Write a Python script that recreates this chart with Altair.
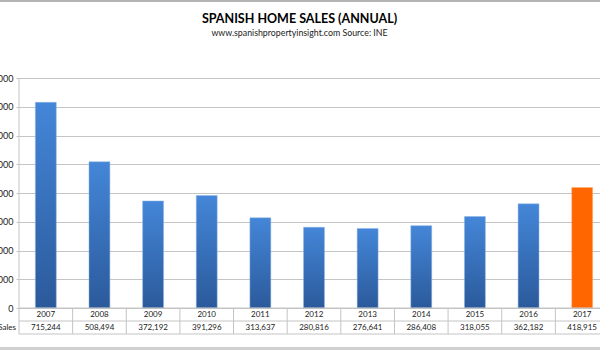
import altair as alt
import pandas as pd

# ---- data ----
years = ["2007", "2008", "2009", "2010", "2011", "2012", "2013", "2014", "2015", "2016", "2017"]
sales = [715244, 508494, 372192, 391296, 313637, 280816, 276641, 286408, 318055, 362182, 418915]
highlight_year = "2017"
row_label = ["Sales"]
y_ticks = [0, 100000, 200000, 300000, 400000, 500000, 600000, 700000, 800000]

title_text = ["SPANISH HOME SALES (ANNUAL)"]
subtitle_text = ["www.spanishpropertyinsight.com Source: INE"]

# ---- layout / style ----
FONT = "Lato"
W, H = 581, 230
X_RANGE = 590
ROW1, ROW2 = 243, 256
GRID = "#c4c4c4"

df = pd.DataFrame({"year": years, "sales": sales})
lines_df = pd.DataFrame({"idx": list(range(1, len(years) + 1))})

x = alt.X(
    "year:N",
    scale=alt.Scale(domain=years, range=[0, X_RANGE], paddingInner=0.61, paddingOuter=0.305),
    axis=None,
)
y = alt.Y(
    "sales:Q",
    scale=alt.Scale(domain=[0, 800000], nice=False),
    axis=alt.Axis(
        values=y_ticks, format="d", grid=True, gridColor=GRID, gridWidth=1,
        domain=False, ticks=True, tickSize=3, tickColor=GRID,
        labelFontSize=9, labelPadding=3, labelFont=FONT, labelColor="#222", title=None,
    ),
)

gradient = alt.Gradient(
    gradient="linear",
    stops=[alt.GradientStop(color="#4486d8", offset=0), alt.GradientStop(color="#2b5a9b", offset=1)],
    x1=0, x2=0, y1=0, y2=1,
)

base = alt.Chart(df)
blue = base.transform_filter(alt.datum.year != highlight_year).mark_bar(
    color=gradient, stroke="#8fb4e3", strokeWidth=0.5
).encode(x=x, y=y)
orange = base.transform_filter(alt.datum.year == highlight_year).mark_bar(
    color="#ff6600", stroke="#ffb07a", strokeWidth=0.5
).encode(x=x, y=y)

year_text = base.mark_text(font=FONT, fontSize=8, color="#222").encode(
    x=x, y=alt.value((H + ROW1) / 2), text="year:N"
)
value_text = base.mark_text(font=FONT, fontSize=8, color="#222").encode(
    x=x, y=alt.value((ROW1 + ROW2) / 2), text=alt.Text("sales:Q", format=",")
)
label_text = alt.Chart(pd.DataFrame({"label": row_label})).mark_text(
    font=FONT, fontSize=8, color="#222", align="right"
).encode(x=alt.value(-3), y=alt.value((ROW1 + ROW2) / 2), text="label:N")

band_layer = alt.layer(blue, orange, year_text, value_text, label_text)

col_lines = alt.Chart(lines_df).mark_rule(color=GRID, strokeWidth=1).encode(
    x=alt.X("idx:Q", scale=alt.Scale(domain=[0, len(years)], range=[0, X_RANGE]), axis=None),
    y=alt.value(H), y2=alt.value(ROW2),
)

deco = alt.Chart(pd.DataFrame({"k": [0]}))
h_mid = deco.mark_rule(color=GRID, strokeWidth=1).encode(x=alt.value(0), x2=alt.value(X_RANGE), y=alt.value(ROW1))
h_bot = deco.mark_rule(color=GRID, strokeWidth=1).encode(x=alt.value(0), x2=alt.value(X_RANGE), y=alt.value(ROW2))
h_zero = deco.mark_rule(color=GRID, strokeWidth=1).encode(x=alt.value(0), x2=alt.value(X_RANGE), y=alt.value(H))
v_axis = deco.mark_rule(color=GRID, strokeWidth=1).encode(x=alt.value(0), y=alt.value(0), y2=alt.value(ROW2))
top_frame = deco.mark_rule(color="#b4b4b4", strokeWidth=2).encode(x=alt.value(-19), x2=alt.value(W), y=alt.value(-77))
bot_frame = deco.mark_rule(color="#d0d0d0", strokeWidth=3).encode(x=alt.value(-19), x2=alt.value(W), y=alt.value(270.5))

title_mark = alt.Chart(pd.DataFrame({"t": title_text})).mark_text(
    font=FONT, fontSize=12.5, fontWeight="bold", color="#000", baseline="alphabetic"
).encode(x=alt.value(280.5), y=alt.value(-55), text="t:N")
subtitle_mark = alt.Chart(pd.DataFrame({"t": subtitle_text})).mark_text(
    font=FONT, fontSize=8.8, color="#222", baseline="alphabetic"
).encode(x=alt.value(280.5), y=alt.value(-42), text="t:N")

chart = (
    alt.layer(band_layer, col_lines, h_zero, h_mid, h_bot, v_axis, top_frame, bot_frame, title_mark, subtitle_mark)
    .resolve_scale(x="independent")
    .properties(
        width=W,
        height=H,
        autosize=alt.AutoSizeParams(type="none"),
        padding={"left": 19, "top": 78, "right": 0, "bottom": 42},
        background="white",
    )
    .configure_view(stroke=None)
)

chart.save("out.html", embed_options={"renderer": "svg", "actions": False})
